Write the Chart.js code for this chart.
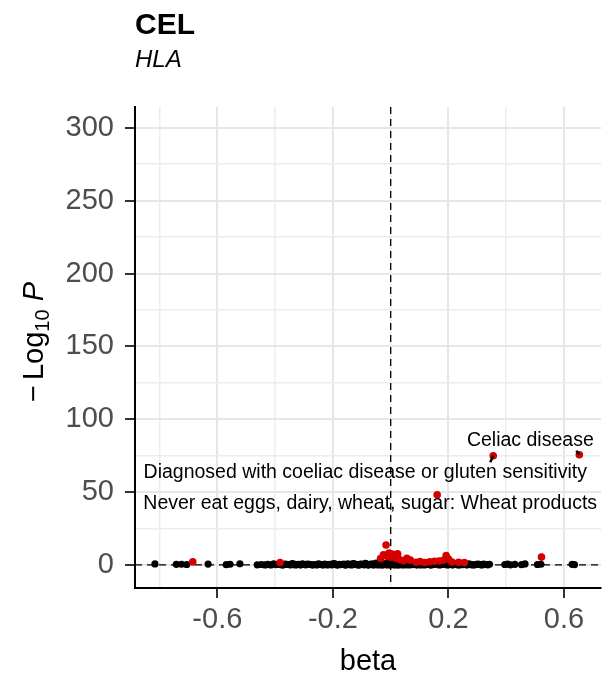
<!DOCTYPE html>
<html>
<head>
<meta charset="utf-8">
<script src="https://cdn.jsdelivr.net/npm/chart.js@4.4.1/dist/chart.umd.min.js"></script>
<style>
  html, body { margin: 0; padding: 0; background: #fff; }
  #wrap { width: 605px; height: 677px; position: relative; }
</style>
</head>
<body>
<div id="wrap"><canvas id="volcano"></canvas></div>
<script>
// Volcano plot: CEL / HLA region

// non-significant associations
const nsBeta = [
  -0.816, -0.742, -0.724, -0.706, -0.632, -0.569, -0.556, -0.522, -0.462, -0.425,
  -0.415, -0.405, -0.392, -0.378, -0.366, -0.352, -0.341, -0.330, -0.318, -0.305,
  -0.294, -0.281, -0.270, -0.262, -0.250, -0.240, -0.228, -0.219, -0.210, -0.198,
  -0.188, -0.178, -0.168, -0.158, -0.149, -0.140, -0.131, -0.122, -0.113, -0.104,
  -0.096, -0.088, -0.080, -0.072, -0.064, -0.057, -0.050, -0.043, -0.036, -0.030,
  -0.024, -0.018, -0.012, -0.007, -0.002, 0.003, 0.008, 0.013, 0.019, 0.025,
  0.031, 0.038, 0.045, 0.052, 0.060, 0.068, 0.076, 0.085, 0.094, 0.103,
  0.112, 0.122, 0.132, 0.142, 0.152, 0.163, 0.174, 0.185, 0.196, 0.208,
  0.220, 0.232, 0.245, 0.258, 0.270, 0.283, 0.296, 0.310, 0.322, 0.336,
  0.395, 0.405, 0.415, 0.430, 0.453, 0.465, 0.508, 0.520, 0.628, 0.636,
  -0.448, -0.435, -0.398, -0.385, -0.372, -0.360, -0.346, -0.335, -0.324, -0.312,
  -0.300, -0.288, -0.275, -0.256, -0.245, -0.234, -0.222, -0.204, -0.193, -0.183,
  -0.173, -0.163, -0.153, -0.144, -0.135, -0.126, -0.117, -0.108, -0.100, -0.092,
  -0.084, -0.076, -0.068, -0.060, -0.053, -0.046, -0.040, -0.033, -0.027, -0.021,
  -0.015, -0.010, -0.004, 0.001, 0.006, 0.011, 0.016, 0.022, 0.028, 0.034,
  0.041, 0.048, 0.056, 0.064, 0.072, 0.080, 0.090, 0.098, 0.107, 0.117,
  0.127, 0.137, 0.147, 0.157, 0.168, 0.179, 0.190, 0.202, 0.214, 0.226,
  0.238, 0.251, 0.264, 0.277, 0.290, 0.303, 0.316, 0.329, 0.342
];
const nsLogP = [
  0.9, 0.6, 0.7, 0.5, 0.8, 0.4, 0.7, 1.0, 0.3, 0.6,
  0.2, 0.9, 0.5, 0.3, 0.8, 0.4, 1.1, 0.2, 0.6, 0.9,
  0.3, 0.7, 0.1, 0.5, 1.0, 0.4, 0.8, 0.2, 0.6, 1.2,
  0.3, 0.7, 0.5, 0.1, 0.9, 0.4, 1.1, 0.6, 0.2, 0.8,
  0.5, 1.3, 0.3, 0.7, 1.0, 0.4, 1.4, 0.6, 0.2, 1.1,
  0.8, 0.4, 1.5, 0.9, 0.3, 1.2, 0.6, 1.6, 0.2, 0.9,
  1.3, 0.5, 1.0, 0.3, 0.8, 1.2, 0.4, 0.7, 1.1, 0.2,
  0.9, 0.5, 1.0, 0.3, 0.7, 1.2, 0.4, 0.8, 0.2, 0.6,
  1.0, 0.3, 0.7, 0.5, 0.9, 0.2, 0.6, 0.4, 0.8, 0.3,
  0.5, 0.8, 0.3, 0.6, 0.4, 0.9, 0.5, 0.7, 0.6, 0.4,
  0.5, 0.2, 0.4, 0.7, 0.1, 0.6, 0.3, 0.8, 0.4, 0.1,
  0.5, 0.8, 0.4, 0.2, 0.6, 0.1, 0.5, 0.3, 0.9, 0.1,
  0.4, 0.8, 0.3, 0.6, 0.2, 0.9, 0.4, 0.1, 0.7, 0.3,
  0.9, 0.1, 0.5, 0.2, 0.8, 0.3, 0.9, 0.5, 0.1, 0.6,
  1.0, 0.2, 0.7, 0.5, 1.0, 0.3, 0.8, 0.5, 0.1, 0.7,
  0.2, 0.6, 1.1, 0.2, 0.9, 0.5, 0.1, 0.6, 0.8, 0.2,
  0.7, 0.1, 0.5, 0.9, 0.2, 0.6, 1.0, 0.4, 0.1, 0.7,
  0.2, 0.4, 0.1, 0.6, 0.3, 0.8, 0.2, 0.5, 0.7
];

// significant associations
const sigBeta = [
  -0.685, -0.383, -0.035, -0.025, -0.016, -0.012, -0.006, 0.000, 0.005, 0.011,
  0.017, 0.024, 0.032, 0.045, 0.056, 0.068, 0.088, 0.102, 0.118, 0.135,
  0.152, 0.168, 0.182, 0.192, 0.200, 0.212, 0.235, 0.255, 0.522
];
const sigLogP = [
  2.3, 1.9, 4.6, 7.2, 13.9, 6.0, 8.4, 5.5, 7.6, 6.3,
  4.9, 7.9, 3.8, 3.1, 4.7, 3.5, 2.1, 2.6, 1.9, 2.4,
  2.7, 2.9, 3.4, 6.6, 4.2, 2.2, 2.0, 1.8, 5.6
];

// labelled hits
const hitNames = [
  'Celiac disease',
  'Diagnosed with coeliac disease or gluten sensitivity',
  'Never eat eggs, dairy, wheat, sugar: Wheat products'
];
const hitBeta = [0.653, 0.355, 0.161];
const hitLogP = [75.8, 75.1, 48.3];

// axes
const xTicks = [-0.8, -0.6, -0.4, -0.2, 0, 0.2, 0.4, 0.6];
const xMajor = [-0.6, -0.2, 0.2, 0.6];
const xTickLabels = ['-0.6', '-0.2', '0.2', '0.6'];
const yTicks = [0, 25, 50, 75, 100, 125, 150, 175, 200, 225, 250, 275, 300];
const yMajor = [0, 50, 100, 150, 200, 250, 300];

const vLine = 0;
const hLine = 0.3;

// label offsets from their point, in pixels
const labelShift = [[-49, -14], [-128, 16.5], [-67, 8.5]];

const FONT = "'Liberation Sans', Arial, sans-serif";
const RED = '#d40000';

const near = (a, b) => Math.abs(a - b) < 1e-6;
const isMajorX = v => xMajor.some(m => near(m, v));
const isMajorY = v => yMajor.some(m => near(m, v));

const pts = (xs, ys) => xs.map((x, i) => ({ x: x, y: ys[i] }));

const decor = {
  id: 'decor',
  beforeDatasetsDraw(chart) {
    const { ctx, chartArea: a, scales: { x, y } } = chart;
    ctx.save();
    ctx.beginPath();
    ctx.rect(a.left, a.top, a.right - a.left, a.bottom - a.top);
    ctx.clip();
    ctx.strokeStyle = '#000';
    ctx.lineWidth = 1.3;
    ctx.setLineDash([7, 5]);
    const px = x.getPixelForValue(vLine);
    ctx.beginPath();
    ctx.moveTo(px, a.top);
    ctx.lineTo(px, a.bottom);
    ctx.stroke();
    const py = y.getPixelForValue(hLine);
    ctx.beginPath();
    ctx.moveTo(a.left, py);
    ctx.lineTo(a.right, py);
    ctx.stroke();
    ctx.restore();
  },
  afterDatasetsDraw(chart) {
    const { ctx, scales: { x, y } } = chart;
    ctx.save();
    ctx.font = '19.5px ' + FONT;
    ctx.fillStyle = '#000';
    ctx.textAlign = 'center';
    ctx.textBaseline = 'middle';
    hitNames.forEach((name, i) => {
      const px = x.getPixelForValue(hitBeta[i]);
      const py = y.getPixelForValue(hitLogP[i]);
      const cx = px + labelShift[i][0];
      const cy = py + labelShift[i][1];
      const w = ctx.measureText(name).width;
      // segment from label box to its point
      const bx = Math.max(cx - w / 2, Math.min(px - 3, cx + w / 2));
      const by = Math.max(cy - 10, Math.min(py, cy + 10));
      if (Math.hypot(px - bx, py - by) > 3) {
        ctx.strokeStyle = '#000';
        ctx.lineWidth = 2.5;
        ctx.beginPath();
        ctx.moveTo(bx, by);
        ctx.lineTo(px, py);
        ctx.stroke();
      }
      ctx.fillText(name, cx, cy);
    });
    ctx.restore();
  },
  afterDraw(chart) {
    const { ctx, chartArea: a } = chart;
    ctx.save();
    ctx.fillStyle = '#000';
    ctx.textAlign = 'left';
    ctx.textBaseline = 'alphabetic';
    ctx.font = 'bold 30px ' + FONT;
    ctx.fillText('CEL', 135, 34);
    ctx.font = 'italic 24px ' + FONT;
    ctx.fillText('HLA', 135, 67);

    // x title
    ctx.textAlign = 'center';
    ctx.font = '29px ' + FONT;
    ctx.fillText('beta', (a.left + a.right) / 2, 670);

    // y title: −Log10 P
    const parts = [
      { t: '\u2212', f: '29px ' + FONT, dy: 0, gap: 5 },
      { t: 'Log', f: '29px ' + FONT, dy: 0, gap: 0 },
      { t: '10', f: '20px ' + FONT, dy: 6, gap: 0 },
      { t: ' ', f: '29px ' + FONT, dy: 0, gap: 0 },
      { t: 'P', f: 'italic 29px ' + FONT, dy: 0, gap: 0 }
    ];
    let total = 0;
    parts.forEach(p => { ctx.font = p.f; p.w = ctx.measureText(p.t).width + p.gap; total += p.w; });
    ctx.translate(43, 342);
    ctx.rotate(-Math.PI / 2);
    ctx.textAlign = 'left';
    let cur = -total / 2;
    parts.forEach(p => {
      ctx.font = p.f;
      ctx.fillText(p.t, cur, p.dy);
      cur += p.w;
    });
    ctx.restore();
  }
};

new Chart(document.getElementById('volcano'), {
  type: 'scatter',
  data: {
    datasets: [
      {
        label: 'hits',
        data: pts(hitBeta, hitLogP),
        backgroundColor: RED,
        borderWidth: 0,
        pointRadius: 3.8,
        order: 0
      },
      {
        label: 'significant',
        data: pts(sigBeta, sigLogP),
        backgroundColor: RED,
        borderWidth: 0,
        pointRadius: 3.8,
        order: 1
      },
      {
        label: 'ns',
        data: pts(nsBeta, nsLogP),
        backgroundColor: '#000',
        borderWidth: 0,
        pointRadius: 3.6,
        order: 2
      }
    ]
  },
  options: {
    responsive: true,
    maintainAspectRatio: false,
    animation: false,
    layout: { padding: { top: 107, left: 0, right: 0, bottom: 0 } },
    plugins: {
      legend: { display: false },
      tooltip: { enabled: false }
    },
    scales: {
      x: {
        type: 'linear',
        min: -0.885,
        max: 0.728,
        afterBuildTicks: s => { s.ticks = xTicks.map(v => ({ value: v })); },
        afterFit: s => { s.height = 89; },
        border: { color: '#000', width: 2 },
        grid: {
          color: c => isMajorX(c.tick.value) ? '#e6e6e6' : '#ececec',
          lineWidth: c => isMajorX(c.tick.value) ? 2 : 1.5,
          tickColor: c => isMajorX(c.tick.value) ? '#333' : 'rgba(0,0,0,0)',
          tickLength: 10,
          tickWidth: 2
        },
        ticks: {
          autoSkip: false,
          maxRotation: 0,
          padding: 5,
          color: '#4d4d4d',
          font: { family: FONT, size: 29 },
          callback: v => {
            const i = xMajor.findIndex(m => near(m, v));
            return i >= 0 ? xTickLabels[i] : '';
          }
        }
      },
      y: {
        type: 'linear',
        min: -15.6,
        max: 314.2,
        afterBuildTicks: s => { s.ticks = yTicks.map(v => ({ value: v })); },
        afterFit: s => { s.width = 135; },
        border: { color: '#000', width: 2 },
        grid: {
          color: c => isMajorY(c.tick.value) ? '#e6e6e6' : '#ececec',
          lineWidth: c => isMajorY(c.tick.value) ? 2 : 1.5,
          tickColor: c => isMajorY(c.tick.value) ? '#333' : 'rgba(0,0,0,0)',
          tickLength: 10,
          tickWidth: 2
        },
        ticks: {
          autoSkip: false,
          padding: 11,
          color: '#4d4d4d',
          font: { family: FONT, size: 29 },
          callback: v => isMajorY(v) ? String(v) : ''
        }
      }
    }
  },
  plugins: [decor]
});
</script>
</body>
</html>
